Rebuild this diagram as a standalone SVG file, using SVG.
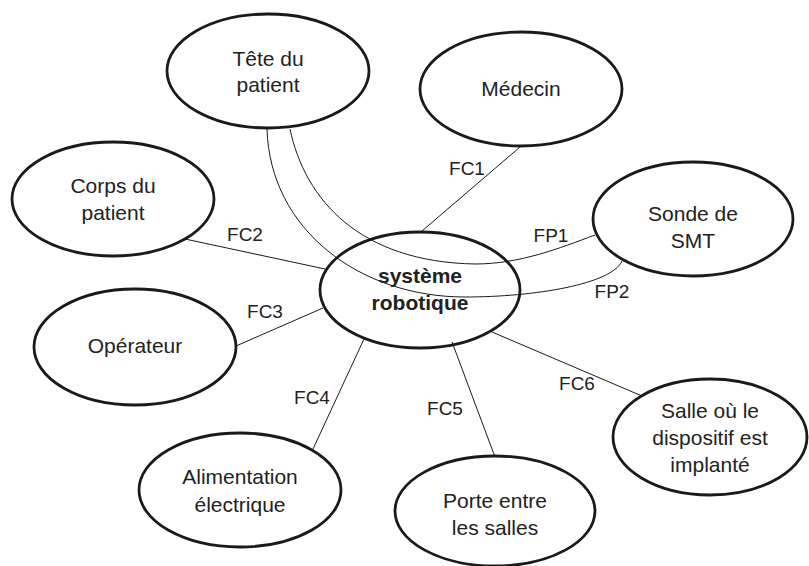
<svg xmlns="http://www.w3.org/2000/svg" width="809" height="566" viewBox="0 0 809 566">
<style>
.n{fill:none;stroke:#1a1a1a;stroke-width:2.8}
.c{fill:none;stroke:#1a1a1a;stroke-width:1}
text{font-family:"Liberation Sans",Arial,sans-serif;font-size:21px;fill:#222;text-anchor:middle}
.b{font-weight:bold}
.l{font-size:19px}
</style>
<rect width="809" height="566" fill="#fff"/>
<g id="connectors">
<line class="c" x1="520" y1="147" x2="422" y2="231"/>
<line class="c" x1="185" y1="239" x2="325" y2="269"/>
<line class="c" x1="236" y1="346" x2="323" y2="308"/>
<line class="c" x1="364" y1="339" x2="313" y2="449"/>
<line class="c" x1="452" y1="342" x2="495" y2="457"/>
<line class="c" x1="492" y1="332" x2="642" y2="396"/>
<path class="c" d="M290,129 C305,200 360,262 475,264 C520,264 560,248 595,235"/>
<path class="c" d="M267,129 C270,230 360,297 465,297 C535,297 612,284 622,261"/>
<text class="l" x="467" y="175">FC1</text>
<text class="l" x="245" y="241">FC2</text>
<text class="l" x="265" y="318">FC3</text>
<text class="l" x="312" y="404">FC4</text>
<text class="l" x="445" y="415">FC5</text>
<text class="l" x="577" y="390">FC6</text>
<text class="l" x="551" y="242">FP1</text>
<text class="l" x="612" y="298">FP2</text>
</g>
<g id="tete"><ellipse class="n" cx="268" cy="71" rx="101" ry="57"/><text x="268" y="66">Tête du</text><text x="268" y="92">patient</text></g>
<g id="medecin"><ellipse class="n" cx="521" cy="89" rx="101" ry="57"/><text x="521" y="96">Médecin</text></g>
<g id="corps"><ellipse class="n" cx="113" cy="199" rx="101" ry="57"/><text x="113" y="193">Corps du</text><text x="113" y="220">patient</text></g>
<g id="sonde"><ellipse class="n" cx="693" cy="219" rx="100" ry="57"/><text x="693" y="221">Sonde de</text><text x="693" y="248">SMT</text></g>
<g id="systeme"><ellipse class="n" cx="420" cy="290" rx="100" ry="58"/><text class="b" x="420" y="283">système</text><text class="b" x="420" y="310">robotique</text></g>
<g id="operateur"><ellipse class="n" cx="135" cy="347" rx="101" ry="58"/><text x="135" y="353">Opérateur</text></g>
<g id="alimentation"><ellipse class="n" cx="240" cy="490" rx="101" ry="57"/><text x="240" y="484">Alimentation</text><text x="240" y="512">électrique</text></g>
<g id="porte"><ellipse class="n" cx="495" cy="511" rx="100" ry="55"/><text x="495" y="508">Porte entre</text><text x="495" y="535">les salles</text></g>
<g id="salle"><ellipse class="n" cx="710" cy="437" rx="97" ry="58"/><text x="710" y="418">Salle où le</text><text x="710" y="445">dispositif est</text><text x="710" y="472">implanté</text></g>
</svg>
